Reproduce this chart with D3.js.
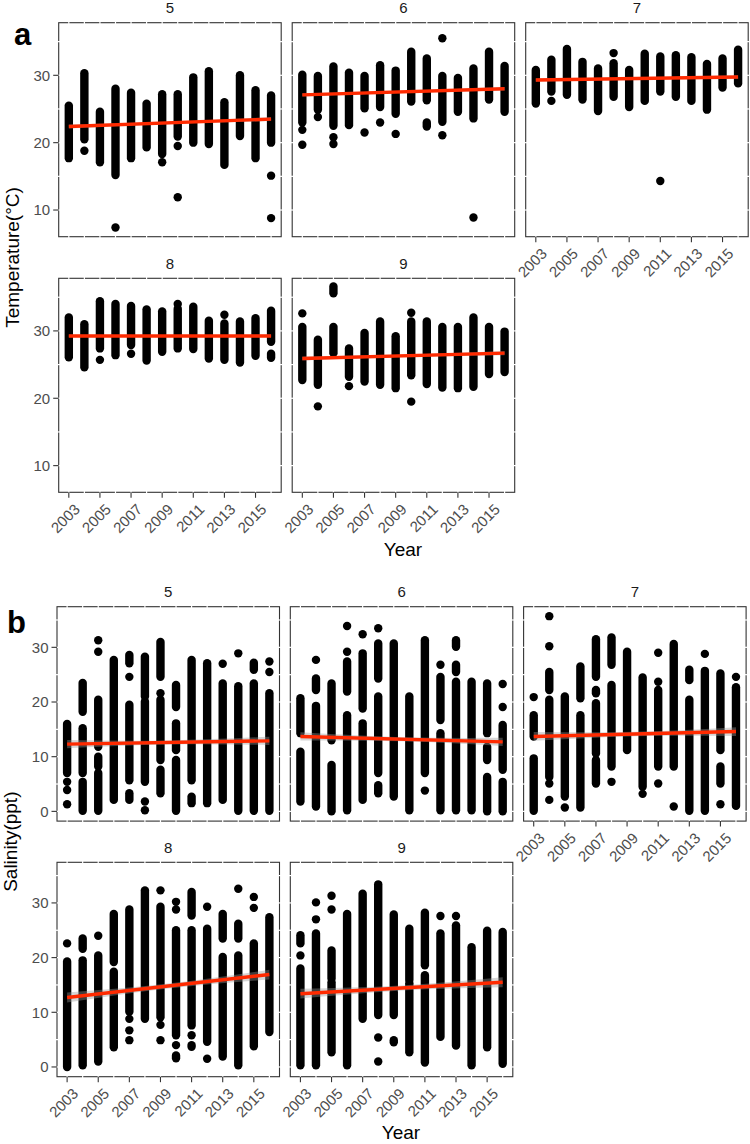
<!DOCTYPE html>
<html><head><meta charset="utf-8">
<script src="https://cdn.jsdelivr.net/npm/d3@7"></script>
<style>body{margin:0;background:#fff}text{font-family:"Liberation Sans",Arial,Helvetica,sans-serif}</style>
</head><body>
<svg id="c" width="750" height="1144"></svg>
<script>
// ---------- data ----------
const years = [2003,2004,2005,2006,2007,2008,2009,2010,2011,2012,2013,2014,2015,2016];
const facetNames = ["5","6","7","8","9"];
const xTickYears = [2003,2005,2007,2009,2011,2013,2015];
const tempTicks = [10,20,30];
const salTicks = [0,10,20,30];

// each year: list of [low, high] runs of overlapping points (low==high: single point)
const temp5 = [
 [[17.7,25.5]], [[20.5,30.3],[18.8,18.8]], [[17.1,24.6]], [[15.2,28.0],[7.4,7.4]],
 [[17.7,27.4]], [[19.3,25.8]], [[18.3,27.2],[17.1,17.1]], [[20.9,27.2],[19.5,19.5],[11.9,11.9]],
 [[20.0,29.7]], [[19.8,30.6]], [[16.7,26.0]], [[21.0,30.0]], [[17.7,27.8]],
 [[20.0,27.0],[15.1,15.1],[8.8,8.8]]
];
const temp6 = [
 [[23.0,30.1],[21.9,21.9],[19.7,19.7]], [[24.9,29.9],[23.8,23.8]], [[22.5,31.3],[20.8,20.8],[19.8,19.8]],
 [[22.6,30.4]], [[25.1,29.9],[21.5,21.5]], [[25.3,31.5],[23.0,23.0]], [[24.3,30.7],[21.3,21.3]],
 [[26.1,33.5]], [[26.3,32.5],[22.4,23.0]], [[23.1,29.9],[21.1,21.1],[35.5,35.5]], [[24.6,29.6]],
 [[23.6,31.0],[8.9,8.9]], [[26.4,33.5]], [[24.6,31.4]]
];
const temp7 = [
 [[25.8,30.8]], [[27.6,32.3],[26.2,26.2]], [[27.1,33.9]], [[26.4,32.0]], [[24.7,31.0]],
 [[26.8,31.8],[33.3,33.3]], [[25.3,30.8]], [[26.2,33.2]], [[27.6,32.8],[14.3,14.3]],
 [[26.8,33.0]], [[26.2,32.7]], [[24.9,31.7]], [[28.2,32.5]], [[28.8,33.8]]
];
const temp8 = [
 [[26.1,32.0]], [[24.6,31.0]], [[27.4,34.4],[25.7,25.7]], [[26.4,34.0]], [[27.9,33.7],[26.6,26.6]],
 [[25.6,33.2]], [[26.9,32.9]], [[27.4,33.3],[34.0,34.0]], [[27.3,33.6]], [[25.9,31.5]],
 [[25.7,31.1],[32.4,32.4]], [[25.3,31.4]], [[26.3,31.9]], [[28.4,33.0],[26.0,26.6]]
];
const temp9 = [
 [[22.7,30.6],[32.6,32.6]], [[22.0,28.7],[18.8,18.8]], [[26.7,30.6],[35.6,36.6]],
 [[23.2,27.4],[21.8,21.8]], [[22.5,29.7]], [[22.0,31.4]], [[21.5,29.2]],
 [[23.4,31.4],[32.7,32.7],[19.5,19.5]], [[22.1,31.4]], [[21.6,30.6]], [[21.5,30.6]],
 [[21.7,32.0]], [[23.6,30.6]], [[23.9,29.9]]
];
const sal5 = [
 [[7.0,16.0],[5.4,5.4],[3.9,3.9],[1.3,1.3]],
 [[18.2,23.5],[7.0,15.2],[0.1,5.4]],
 [[29.2,29.2],[31.3,31.3],[11.8,20.4],[8.2,10.0],[0.1,7.0]],
 [[2.1,27.7]],
 [[27.1,28.6],[24.6,24.6],[5.7,19.5],[2.1,3.3]],
 [[21.0,28.3],[5.4,20.1],[1.8,1.8],[0.2,0.2]],
 [[24.6,31.0],[21.6,21.6],[9.4,20.4],[3.3,7.6]],
 [[19.1,23.1],[11.2,16.1],[0.1,9.4]],
 [[5.7,27.7],[1.5,2.7]],
 [[1.5,27.1]],
 [[27.0,27.0],[2.1,23.4]],
 [[28.9,28.9],[0.1,22.9]],
 [[25.9,27.2],[0.1,23.4]],
 [[27.4,27.4],[25.5,25.5],[0.1,21.6]]
];
const sal6 = [
 [[14.3,20.7],[1.8,10.9]],
 [[27.7,27.7],[22.2,24.3],[0.9,19.3]],
 [[13.0,23.4],[0.0,8.5]],
 [[33.9,33.9],[29.2,29.2],[21.9,27.4],[0.2,17.6]],
 [[32.4,32.4],[18.8,28.9],[2.1,16.1]],
 [[33.5,33.5],[24.3,30.7],[7.0,21.0],[3.3,4.8]],
 [[2.7,30.7]],
 [[0.2,21.0]],
 [[7.0,31.3],[3.8,3.8]],
 [[26.8,26.8],[16.7,24.6],[0.2,14.3]],
 [[30.1,31.3],[25.5,26.8],[0.2,23.7]],
 [[0.2,23.7]],
 [[14.3,23.4],[9.4,11.8],[0.0,6.3]],
 [[23.3,23.3],[19.1,19.1],[7.6,15.8],[0.0,5.4]]
];
const sal7 = [
 [[20.9,20.9],[13.7,17.6],[0.1,9.7]],
 [[35.7,35.7],[30.2,30.2],[22.2,25.5],[6.3,20.4],[5.1,5.1],[2.1,2.1]],
 [[2.7,21.0],[0.7,0.7]],
 [[20.7,26.5],[0.7,17.6]],
 [[24.6,31.5],[21.6,22.2],[10.6,19.8],[5.1,9.4]],
 [[26.8,31.8],[8.2,23.1],[5.4,5.4]],
 [[11.2,29.2]],
 [[4.5,24.5],[3.2,3.2]],
 [[29.0,29.0],[23.7,23.7],[8.2,22.2],[5.1,5.1]],
 [[8.2,30.6],[0.9,0.9]],
 [[24.0,25.9],[0.1,20.4]],
 [[28.8,28.8],[0.1,25.7]],
 [[11.2,25.2],[5.1,8.2],[1.3,1.3]],
 [[24.6,24.6],[1.0,22.7]]
];
const sal8 = [
 [[22.6,22.6],[0.0,19.3]],
 [[21.6,23.5],[0.3,19.5]],
 [[24.0,24.0],[1.0,20.4]],
 [[19.2,28.0],[3.6,17.4]],
 [[10.1,28.8],[8.8,8.8],[6.7,6.7],[4.9,4.9]],
 [[8.8,32.3]],
 [[32.3,32.3],[9.1,29.3],[7.7,7.7],[4.9,4.9]],
 [[30.2,30.2],[28.8,28.8],[5.8,25.0],[4.0,4.0],[1.6,2.1]],
 [[27.7,32.0],[7.6,25.0],[5.8,5.8],[3.7,4.0]],
 [[29.3,29.3],[4.6,25.3],[1.5,1.5]],
 [[23.5,28.0],[1.9,20.1]],
 [[32.6,32.6],[23.5,26.2],[0.3,20.4]],
 [[31.1,31.1],[29.1,29.1],[3.8,22.6]],
 [[6.4,27.4]]
];
const sal9 = [
 [[22.6,24.1],[20.4,20.4],[0.3,18.0]],
 [[30.1,30.1],[27.0,27.0],[0.3,24.4]],
 [[31.3,31.3],[28.8,28.8],[16.2,21.3],[2.7,15.5]],
 [[0.3,28.0]],
 [[8.8,31.7]],
 [[9.5,33.4],[5.4,5.4],[1.0,1.0]],
 [[14.3,27.9],[9.5,13.7],[4.5,4.9]],
 [[15.9,25.3],[2.7,15.3]],
 [[18.6,28.2],[0.8,16.8]],
 [[27.6,27.6],[5.5,24.4]],
 [[27.6,27.6],[3.9,25.9]],
 [[0.3,21.9]],
 [[3.6,24.9]],
 [[0.6,24.7]]
];
// fitted line values at 2003 and 2016, and confidence half-width at the ends
const tempFit = [[22.4,23.5],[27.1,28.0],[29.3,29.75],[29.25,29.25],[25.9,26.7]];
const salFit  = [[12.3,12.9],[13.7,12.7],[13.7,14.6],[12.7,16.9],[13.4,15.5]];
const tempCI = [0.3,0.25,0.25,0.2,0.3];
const salCI  = [0.75,0.75,0.8,0.9,0.9];

// ---------- drawing ----------
const svg = d3.select("#c");
const R = 4.2;
const axisGrey = "#4d4d4d";

function drawBlock(L, stripsList, fits, cis, yDomain, yTicks, yMinor) {
  const x = d3.scaleLinear().domain([2002.35, 2016.65]).range([0, L.w]);
  const y = d3.scaleLinear().domain(yDomain).range([L.h, 0]);
  facetNames.forEach((name, i) => {
    const col = i % 3, row = Math.floor(i / 3);
    const g = svg.append("g").attr("transform", `translate(${L.left + col * L.colStep},${L.top + row * L.rowStep})`);
    const runs = years.flatMap((yr, j) => stripsList[i][j].map(s => ({yr, lo: s[0], hi: s[1]})));
    g.selectAll("rect.run").data(runs).join("rect")
      .attr("x", d => x(d.yr) - R).attr("width", 2 * R)
      .attr("y", d => y(d.hi) - R).attr("height", d => y(d.lo) - y(d.hi) + 2 * R)
      .attr("rx", R).attr("ry", R).attr("fill", "#000");
    const f = fits[i], c = cis[i];
    const band = [
      {t: 2003, m: f[0], w: c},
      {t: 2009.5, m: (f[0] + f[1]) / 2, w: c * 0.5},
      {t: 2016, m: f[1], w: c}
    ];
    g.append("path").datum(band)
      .attr("d", d3.area().x(d => x(d.t)).y0(d => y(d.m - d.w)).y1(d => y(d.m + d.w)).curve(d3.curveNatural))
      .attr("fill", "#999").attr("fill-opacity", 0.4);
    g.append("path").datum([{t: 2003, v: f[0]}, {t: 2016, v: f[1]}])
      .attr("d", d3.line().x(d => x(d.t)).y(d => y(d.v)))
      .attr("stroke", "#ff2a00").attr("stroke-width", 3.4).attr("fill", "none");
    g.append("rect").attr("x", 0).attr("y", 0).attr("width", L.w).attr("height", L.h)
      .attr("fill", "none").attr("stroke", "#333").attr("stroke-width", 1.1);
    const stub = 2;
    years.forEach(yr => {
      g.append("line").attr("x1", x(yr)).attr("x2", x(yr)).attr("y1", -stub).attr("y2", stub).attr("stroke", "#fff").attr("stroke-width", 1.2);
      g.append("line").attr("x1", x(yr)).attr("x2", x(yr)).attr("y1", L.h - stub).attr("y2", L.h + stub).attr("stroke", "#fff").attr("stroke-width", 1.2);
    });
    yTicks.concat(yMinor).forEach(v => {
      g.append("line").attr("x1", -stub).attr("x2", stub).attr("y1", y(v)).attr("y2", y(v)).attr("stroke", "#fff").attr("stroke-width", 1.2);
      g.append("line").attr("x1", L.w - stub).attr("x2", L.w + stub).attr("y1", y(v)).attr("y2", y(v)).attr("stroke", "#fff").attr("stroke-width", 1.2);
    });
    g.append("text").attr("x", L.w / 2).attr("y", -9.7).attr("text-anchor", "middle")
      .attr("font-size", 15).attr("fill", "#1a1a1a").text(name);
    if (col === 0) {
      yTicks.forEach(v => {
        g.append("line").attr("x1", -5.5).attr("x2", 0).attr("y1", y(v)).attr("y2", y(v)).attr("stroke", "#333").attr("stroke-width", 1.1);
        g.append("text").attr("x", -8.5).attr("y", y(v)).attr("dy", "0.35em").attr("text-anchor", "end")
          .attr("font-size", 15).attr("fill", axisGrey).text(v);
      });
    }
    if (i >= 2) {
      xTickYears.forEach(yr => {
        g.append("line").attr("x1", x(yr)).attr("x2", x(yr)).attr("y1", L.h).attr("y2", L.h + 5.5).attr("stroke", "#333").attr("stroke-width", 1.1);
        g.append("text").attr("transform", `translate(${x(yr) + 12},${L.h + 18}) rotate(-45)`)
          .attr("text-anchor", "end").attr("font-size", 15).attr("fill", axisGrey).text(yr);
      });
    }
  });
}

const layoutA = {left: 58.7, top: 22.7, colStep: 233.5, rowStep: 255.6, w: 222.5, h: 214};
const layoutB = {left: 57, top: 606.7, colStep: 233.3, rowStep: 255.6, w: 222.5, h: 214.4};

drawBlock(layoutA, [temp5, temp6, temp7, temp8, temp9], tempFit, tempCI, [6.04, 37.81], tempTicks, [15, 25, 35]);
drawBlock(layoutB, [sal5, sal6, sal7, sal8, sal9], salFit, salCI, [-1.78, 37.43], salTicks, [5, 15, 25, 35]);

svg.append("text").attr("x", 14).attr("y", 45).attr("font-size", 31).attr("font-weight", "bold").text("a");
svg.append("text").attr("x", 7).attr("y", 633).attr("font-size", 31).attr("font-weight", "bold").text("b");
svg.append("text").attr("transform", "translate(19,257.5) rotate(-90)").attr("text-anchor", "middle")
  .attr("font-size", 19).text("Temperature(°C)");
svg.append("text").attr("transform", "translate(17,841.7) rotate(-90)").attr("text-anchor", "middle")
  .attr("font-size", 19).text("Salinity(ppt)");
svg.append("text").attr("x", 403).attr("y", 556).attr("text-anchor", "middle").attr("font-size", 19).text("Year");
svg.append("text").attr("x", 401).attr("y", 1139).attr("text-anchor", "middle").attr("font-size", 19).text("Year");
</script>
</body></html>
